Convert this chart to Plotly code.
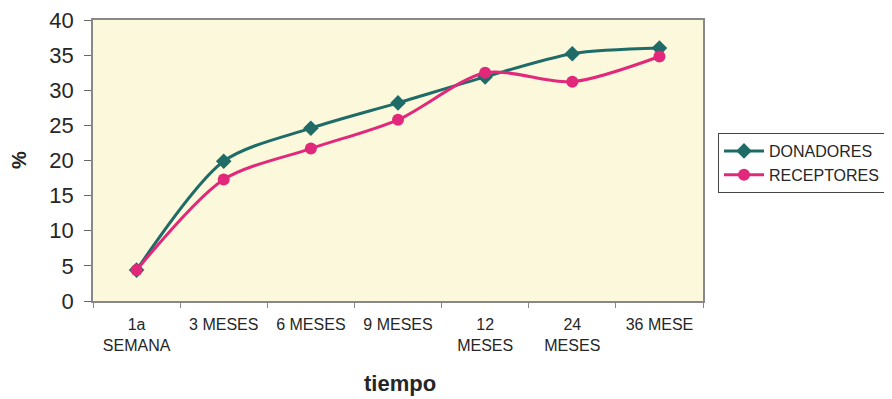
import plotly.graph_objects as go

categories = ["1a<br>SEMANA", "3 MESES", "6 MESES", "9 MESES", "12<br>MESES", "24<br>MESES", "36 MESE"]
donadores = [4.4, 19.9, 24.6, 28.2, 31.9, 35.2, 36.0]
receptores = [4.4, 17.3, 21.7, 25.8, 32.5, 31.2, 34.8]
y_ticks = [0, 5, 10, 15, 20, 25, 30, 35, 40]

# page body has an 8px default margin; compensate so the drawing lands where the reference has it
OFF = 8
L, T, R_EDGE, B_EDGE = 93, 20, 703, 301
W, H = 892 - OFF, 399 - OFF

fig = go.Figure()
fig.add_trace(go.Scatter(
    x=categories, y=donadores, name="DONADORES", mode="lines+markers",
    line=dict(color="#1E6B68", width=3, shape="spline", smoothing=0.8),
    marker=dict(symbol="diamond", size=12, color="#1E6B68"),
))
fig.add_trace(go.Scatter(
    x=categories, y=receptores, name="RECEPTORES", mode="lines+markers",
    line=dict(color="#E2287A", width=3, shape="spline", smoothing=0.8),
    marker=dict(symbol="circle", size=12, color="#E2287A"),
))

plot_w = R_EDGE - L
plot_h = B_EDGE - T

fig.update_layout(
    width=W, height=H,
    margin=dict(l=L - OFF, r=W - (R_EDGE - OFF), t=T - OFF, b=H - (B_EDGE - OFF), autoexpand=False),
    paper_bgcolor="white",
    plot_bgcolor="#FBF8DC",
    font=dict(family="Liberation Sans, Arial, sans-serif", color="#262626"),
    showlegend=True,
    legend=dict(
        x=(718 - L) / plot_w, xanchor="left", y=(B_EDGE - 133) / plot_h, yanchor="top",
        bgcolor="white", bordercolor="#444", borderwidth=1,
        font=dict(size=16, color="#262626"),
        itemwidth=40, tracegroupgap=0,
    ),
    xaxis=dict(
        type="category", range=[-0.5, 6.5],
        tickson="boundaries", ticks="outside", ticklen=5, tickcolor="#888",
        showline=True, linecolor="#888", linewidth=1.5, mirror=True,
        showgrid=False, zeroline=False, automargin=False,
        ticklabelstandoff=8,
        tickfont=dict(size=16, color="#262626"),
    ),
    yaxis=dict(
        range=[0, 40], tickvals=y_ticks,
        ticks="outside", ticklen=7, tickcolor="#666",
        showline=True, linecolor="#888", linewidth=1.5, mirror=True,
        showgrid=False, zeroline=False, automargin=False,
        ticklabelstandoff=6, ticklabeloverflow="allow",
        tickfont=dict(size=22, color="#262626"),
    ),
    annotations=[
        dict(text="<b>%</b>", x=(19 - L) / plot_w, y=(B_EDGE - 160) / plot_h,
             xref="paper", yref="paper", xanchor="center", yanchor="middle",
             showarrow=False, textangle=-90, font=dict(size=20, color="#262626")),
        dict(text="<b>tiempo</b>", x=(400 - L) / plot_w, y=(B_EDGE - 383) / plot_h,
             xref="paper", yref="paper", xanchor="center", yanchor="middle",
             showarrow=False, font=dict(size=22, color="#262626")),
    ],
)

fig.write_html("out.html")
